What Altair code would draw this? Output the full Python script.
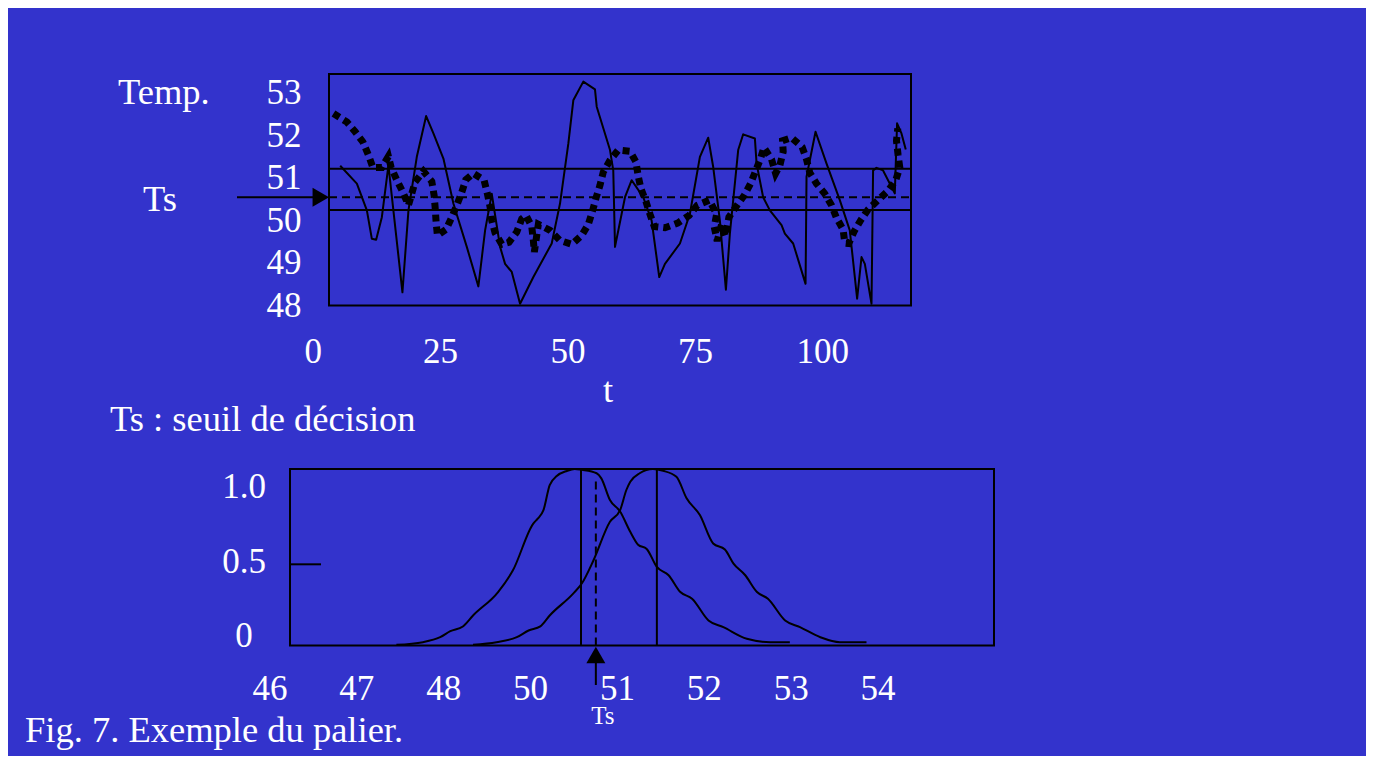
import altair as alt
import pandas as pd

# ---------------- top panel data (temperature vs time) ----------------
solid_t = [5.3, 8.57, 10.53, 11.51, 12.35, 13.47, 14.76, 17.51, 18.69, 20.33, 22.16, 23.59, 25.55,
           27.51, 30.14, 32.41, 33.73, 35.04, 36.67, 37.65, 38.96, 40.59, 43.2, 46.8, 48.43, 50.06,
           51.04, 53.0, 55.29, 55.63, 58.24, 58.88, 59.22, 61.18, 62.49, 64.76, 66.41, 67.9, 69.02,
           71.96, 73.92, 75.88, 77.51, 78.49, 79.8, 80.98, 81.76, 83.39, 84.37, 86.67, 87.0, 88.29,
           89.61, 91.9, 92.55, 94.18, 96.61, 96.8, 98.57, 100.73, 103.33, 105.29, 106.73, 107.59,
           108.24, 109.55, 109.86, 110.53, 111.82, 114.12, 114.57, 115.43, 116.27]
solid_v = [51.29, 50.87, 50.24, 49.57, 49.55, 50.08, 51.30, 48.31, 50.24, 51.50, 52.46, 52.05, 51.46,
           50.40, 49.38, 48.45, 49.77, 50.63, 49.38, 48.98, 48.79, 48.04, 48.67, 49.46, 50.40, 51.81,
           52.83, 53.27, 53.09, 52.68, 51.66, 51.18, 49.38, 50.55, 50.95, 50.55, 50.0, 48.67, 48.98,
           49.46, 50.16, 51.50, 51.95, 51.26, 50.0, 48.37, 49.69, 51.66, 52.03, 51.93, 51.34, 50.55,
           50.24, 49.89, 49.69, 49.46, 48.51, 51.03, 52.09, 51.34, 50.48, 49.77, 48.16, 49.14,
           48.98, 48.04, 51.18, 51.24, 51.18, 50.64, 52.29, 52.05, 51.67]

dot_t = [3.98, 6.61, 8.24, 9.75, 10.84, 11.71, 13.47, 14.76, 15.29, 16.41,
         17.59, 18.69, 20.0, 21.63, 23.27, 23.73, 23.92, 24.12, 24.37, 26.08,
         27.20, 28.18, 29.16, 29.94, 31.43, 33.53, 34.18, 34.71, 35.04, 35.69,
         37.0, 38.43, 39.94, 40.92, 41.76, 42.88, 43.20, 43.39, 44.18, 46.47,
         48.43, 50.73, 52.69, 53.98, 54.84, 55.49, 56.27, 56.92, 58.24, 59.86,
         62.16, 63.33, 63.78, 64.31, 65.29, 66.08, 66.92, 69.02, 71.51, 73.78,
         75.35, 77.71, 79.16, 78.69, 79.27, 80.14, 80.92, 81.57, 82.94, 84.57,
         85.82, 86.86, 87.78, 88.43, 89.94, 90.73, 91.57, 92.22, 92.10, 93.86,
         95.94, 96.80, 97.45, 98.76, 100.39, 101.71, 102.69, 103.98, 104.31, 105.10,
         106.08, 107.39, 108.88, 110.84, 112.80, 114.31, 115.10, 114.76, 114.45, 114.71]
dot_v = [52.52, 52.32, 52.09, 51.85, 51.54, 51.25, 51.25, 51.51, 51.25, 50.95,
         50.67, 50.36, 50.91, 51.16, 50.92, 50.59, 50.32, 49.96, 49.65, 49.79,
         50.08, 50.36, 50.67, 50.96, 51.11, 50.95, 50.63, 50.32, 50.0, 49.71,
         49.44, 49.49, 49.73, 50.04, 50.12, 49.86, 49.53, 49.26, 49.91, 49.77,
         49.53, 49.44, 49.65, 49.91, 50.24, 50.53, 50.83, 51.14, 51.42, 51.66,
         51.63, 51.38, 51.04, 50.75, 50.45, 50.15, 49.86, 49.83, 49.94, 50.12,
         50.36, 50.48, 50.15, 49.85, 49.52, 49.91, 49.63, 50.08, 50.32, 50.59,
         50.87, 51.18, 51.46, 51.72, 51.44, 51.11, 51.30, 51.62, 51.88, 51.95,
         51.73, 51.44, 51.12, 50.87, 50.63, 50.36, 50.06, 49.79, 49.47, 49.46,
         49.73, 50.0, 50.26, 50.48, 50.70, 50.95, 51.25, 51.55, 51.88, 52.17]

band_levels = [51.22, 50.25]
ts_level = 50.55
top_y_ticks = [48, 49, 50, 51, 52, 53]
top_x_ticks = [0, 25, 50, 75, 100]
top_t_range = [3.1, 117.3]
top_v_range = [48.0, 53.45]

# ---------------- bottom panel data (distributions) ----------------
cold_T = [47.86, 48.20, 48.42, 48.55, 48.71, 48.84, 49.16, 49.35, 49.61, 49.67, 49.74, 49.82, 49.91,
          50.04, 50.14, 50.23, 50.42, 50.48, 50.59, 50.72, 50.85, 50.95, 51.06, 51.19, 51.34, 51.49,
          51.64, 51.85, 52.04, 52.34, 52.64, 52.89]
cold_d = [0.004, 0.019, 0.047, 0.081, 0.108, 0.170, 0.303, 0.426, 0.691, 0.720, 0.767, 0.909, 0.960,
          0.989, 1.0, 0.995, 0.976, 0.947, 0.824, 0.759, 0.644, 0.571, 0.547, 0.445, 0.398, 0.303,
          0.265, 0.142, 0.104, 0.038, 0.019, 0.019]
warm_T = [48.84, 49.14, 49.40, 49.55, 49.70, 49.82, 50.12, 50.23, 50.38, 50.59, 50.72, 50.80, 50.85,
          50.97, 51.14, 51.27, 51.44, 51.57, 51.74, 51.91, 52.06, 52.17, 52.32, 52.47, 52.61, 52.83,
          53.02, 53.28, 53.53, 53.87]
warm_d = [0.004, 0.019, 0.047, 0.085, 0.108, 0.170, 0.294, 0.351, 0.483, 0.701, 0.767, 0.881, 0.928,
          0.976, 1.0, 0.990, 0.956, 0.834, 0.739, 0.578, 0.544, 0.464, 0.398, 0.303, 0.265, 0.142,
          0.104, 0.047, 0.019, 0.019]
peak_T = [50.22, 51.19]
ts_bottom = 50.41
ts_dash_top = 0.94
mid_tick = 0.46
bottom_y_ticks = [1.0, 0.5, 0.0]
bottom_y_labels = ["1.0", "0.5", "0"]
bottom_x_labels = ["46", "47", "48", "50", "51", "52", "53", "54"]
bottom_T_range = [46.5, 55.5]
bottom_d_range = [0.0, 1.0]

# ---------------- scales ----------------
FONT = "Liberation Serif"
WHITE = "#FFFFFF"
NUM = 35      # tick-label size
TXT = 36.5    # annotation text size
TX = alt.Scale(domain=top_t_range, range=[321, 903], nice=False, zero=False)
TY = alt.Scale(domain=top_v_range, range=[297.5, 66], nice=False, zero=False)
BX = alt.Scale(domain=bottom_T_range, range=[282, 986], nice=False, zero=False)
BY = alt.Scale(domain=bottom_d_range, range=[637.5, 461], nice=False, zero=False)
# the slide's bottom y-labels sit slightly inside the frame: their own label scale
BYL = alt.Scale(domain=bottom_d_range, range=[628, 479], nice=False, zero=False)

# ---------------- top panel ----------------
frame_top = alt.Chart(pd.DataFrame({"x0": [top_t_range[0]], "x1": [top_t_range[1]],
                                    "y0": [top_v_range[0]], "y1": [top_v_range[1]]})).mark_rect(
    fillOpacity=0, stroke="black", strokeWidth=2).encode(
    x=alt.X("x0:Q", scale=TX, axis=None), x2="x1:Q",
    y=alt.Y("y0:Q", scale=TY, axis=None), y2="y1:Q")

bands = alt.Chart(pd.DataFrame({"v": band_levels, "x0": top_t_range[0], "x1": top_t_range[1]})).mark_rule(
    color="black", strokeWidth=2).encode(
    y=alt.Y("v:Q", scale=TY, axis=None),
    x=alt.X("x0:Q", scale=TX, axis=None), x2="x1:Q")

ts_line = alt.Chart(pd.DataFrame({"v": [ts_level], "x0": top_t_range[0], "x1": top_t_range[1]})).mark_rule(
    color="black", strokeWidth=2, strokeDash=[8, 5]).encode(
    y=alt.Y("v:Q", scale=TY, axis=None),
    x=alt.X("x0:Q", scale=TX, axis=None), x2="x1:Q")

solid_df = pd.DataFrame({"t": solid_t, "v": solid_v, "i": range(len(solid_t))})
solid = alt.Chart(solid_df).mark_line(color="black", strokeWidth=2, strokeJoin="round").encode(
    x=alt.X("t:Q", scale=TX, axis=None), y=alt.Y("v:Q", scale=TY, axis=None), order="i:Q")

dot_df = pd.DataFrame({"t": dot_t, "v": dot_v, "i": range(len(dot_t))})
dotted = alt.Chart(dot_df).mark_line(color="black", strokeWidth=7, strokeDash=[7, 5],
                                     strokeCap="butt").encode(
    x=alt.X("t:Q", scale=TX, axis=None), y=alt.Y("v:Q", scale=TY, axis=None), order="i:Q")

ylab_top = alt.Chart(pd.DataFrame({"v": top_y_ticks, "s": [str(v) for v in top_y_ticks]})).mark_text(
    font=FONT, fontSize=NUM, color=WHITE, align="center", baseline="middle").encode(
    y=alt.Y("v:Q", scale=TY, axis=None), x=alt.value(276), text="s:N")

xlab_top = alt.Chart(pd.DataFrame({"t": top_x_ticks, "s": [str(v) for v in top_x_ticks]})).mark_text(
    font=FONT, fontSize=NUM, color=WHITE, align="center", baseline="alphabetic").encode(
    x=alt.X("t:Q", scale=TX, axis=None), y=alt.value(355), text="s:N")

ts_df = pd.DataFrame({"v": [ts_level]})
arrow_top = alt.Chart(ts_df).mark_rule(color="black", strokeWidth=2).encode(
    y=alt.Y("v:Q", scale=TY, axis=None), x=alt.value(229), x2=alt.value(310))
head_top = alt.Chart(ts_df).mark_point(shape="triangle-right", filled=True, size=361,
                                       color="black", opacity=1).encode(
    y=alt.Y("v:Q", scale=TY, axis=None), x=alt.value(312.8))

top = alt.layer(frame_top, bands, ts_line, solid, dotted, ylab_top, xlab_top, arrow_top, head_top)

# ---------------- bottom panel ----------------
frame_bot = alt.Chart(pd.DataFrame({"x0": [bottom_T_range[0]], "x1": [bottom_T_range[1]],
                                    "y0": [bottom_d_range[0]], "y1": [bottom_d_range[1]]})).mark_rect(
    fillOpacity=0, stroke="black", strokeWidth=2).encode(
    x=alt.X("x0:Q", scale=BX, axis=None), x2="x1:Q",
    y=alt.Y("y0:Q", scale=BY, axis=None), y2="y1:Q")

curve_df = pd.DataFrame({
    "T": cold_T + warm_T,
    "d": cold_d + warm_d,
    "g": ["cold"] * len(cold_T) + ["warm"] * len(warm_T),
})
curves = alt.Chart(curve_df).mark_line(color="black", strokeWidth=2, interpolate="monotone").encode(
    x=alt.X("T:Q", scale=BX, axis=None), y=alt.Y("d:Q", scale=BY, axis=None), detail="g:N")

peaks = alt.Chart(pd.DataFrame({"T": peak_T, "y0": 0.0, "y1": 1.0})).mark_rule(
    color="black", strokeWidth=2).encode(
    x=alt.X("T:Q", scale=BX, axis=None), y=alt.Y("y0:Q", scale=BY, axis=None), y2="y1:Q")

ts_vert = alt.Chart(pd.DataFrame({"T": [ts_bottom], "y0": [0.0], "y1": [ts_dash_top]})).mark_rule(
    color="black", strokeWidth=2, strokeDash=[8, 5]).encode(
    x=alt.X("T:Q", scale=BX, axis=None), y=alt.Y("y0:Q", scale=BY, axis=None), y2="y1:Q")

tick_mid = alt.Chart(pd.DataFrame({"d": [mid_tick]})).mark_rule(color="black", strokeWidth=2).encode(
    y=alt.Y("d:Q", scale=BY, axis=None), x=alt.value(282), x2=alt.value(313))

tsb_df = pd.DataFrame({"T": [ts_bottom]})
arrow_bot = alt.Chart(tsb_df).mark_rule(color="black", strokeWidth=2).encode(
    x=alt.X("T:Q", scale=BX, axis=None), y=alt.value(645), y2=alt.value(677))
head_bot = alt.Chart(tsb_df).mark_point(shape="triangle-up", filled=True, size=361,
                                        color="black", opacity=1).encode(
    x=alt.X("T:Q", scale=BX, axis=None), y=alt.value(647))
ts_small = alt.Chart(tsb_df.assign(s="Ts")).mark_text(
    font=FONT, fontSize=25, color=WHITE, align="center", baseline="alphabetic", dx=7).encode(
    x=alt.X("T:Q", scale=BX, axis=None), y=alt.value(716), text="s:N")

bottom = alt.layer(frame_bot, curves, peaks, ts_vert, tick_mid, arrow_bot, head_bot, ts_small)

ylab_bot = alt.Chart(pd.DataFrame({"d": bottom_y_ticks, "s": bottom_y_labels})).mark_text(
    font=FONT, fontSize=NUM, color=WHITE, align="center", baseline="middle").encode(
    y=alt.Y("d:Q", scale=BYL, axis=None), x=alt.value(236), text="s:N")

xlab_bot = alt.Chart(pd.DataFrame({"s": bottom_x_labels})).mark_text(
    font=FONT, fontSize=NUM, color=WHITE, align="center", baseline="alphabetic").encode(
    x=alt.X("s:N", sort=None, axis=None,
            scale=alt.Scale(type="point", domain=bottom_x_labels, range=[262, 870], padding=0)),
    y=alt.value(692), text="s:N")


# ---------------- free annotations ----------------
def note(txt, x, y, size=TXT, align="left"):
    return alt.Chart(pd.DataFrame({"s": [txt]})).mark_text(
        font=FONT, fontSize=size, color=WHITE, align=align, baseline="alphabetic").encode(
        x=alt.value(x), y=alt.value(y), text="s:N")


notes = [
    note("Temp.", 110, 95.5),
    note("Ts", 135, 202.7),
    note("t", 600, 394, align="center"),
    note("Ts : seuil de décision", 102, 423),
    note("Fig. 7. Exemple du palier.", 17, 734),
]

chart = alt.layer(top, bottom, ylab_bot, xlab_bot, *notes).resolve_scale(
    x="independent", y="independent"
).properties(
    width=1358, height=748, background="#3333CC",
    autosize=alt.AutoSizeParams(type="none"), padding=0,
).configure_view(strokeWidth=0)

chart.save("out.html", embed_options={"renderer": "svg", "actions": False})
